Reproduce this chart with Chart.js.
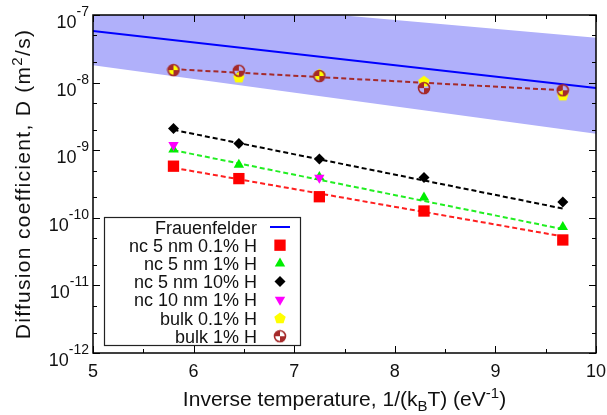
<!DOCTYPE html>
<html>
<head>
<meta charset="utf-8">
<script src="https://cdn.jsdelivr.net/npm/chart.js@4.4.1/dist/chart.umd.min.js"></script>
<style>
  html, body { margin: 0; padding: 0; background: #fff; }
  #wrap { width: 607px; height: 415px; }
</style>
</head>
<body>
<div id="wrap"><canvas id="chart" width="607" height="415"></canvas></div>
<script>
// inverse temperatures 1/(kB T) in eV^-1
const invT = [5.80, 6.45, 7.25, 8.29, 9.67];

// measured diffusion coefficients (m^2/s)
const nc5_01 = [5.8e-10, 3.8e-10, 2.05e-10, 1.26e-10, 4.7e-11];
const nc5_1 = [1.02e-9, 6.1e-10, 4.0e-10, 2.0e-10, 7.3e-11];
const nc5_10 = [2.1e-9, 1.26e-9, 7.4e-10, 3.95e-10, 1.72e-10];
const nc10_1 = [1.19e-9, null, 3.9e-10, null, null];
const bulk01 = [1.55e-8, 1.2e-8, 1.33e-8, 1.05e-8, 6.5e-9];
const bulk1 = [1.53e-8, 1.5e-8, 1.25e-8, 8.3e-9, 7.7e-9];

// Arrhenius fits (dashed), end points
const fitX = [5.80, 9.67];
const fitNc5_01 = [5.5e-10, 5.3e-11];
const fitNc5_1 = [1.0e-9, 6.8e-11];
const fitNc5_10 = [2.0e-9, 1.37e-10];
const fitBulk = [1.58e-8, 7.7e-9];

// Frauenfelder line and its uncertainty band
const frX = [5, 10];
const frauenfelder = [5.8e-8, 8.3e-9];
const frUpper = [2.1e-7, 4.6e-8];
const frLower = [1.8e-8, 1.75e-9];

// ticks
const xTicks = [5, 6, 7, 8, 9, 10];
const xMinor = [5.5, 6.5, 7.5, 8.5, 9.5];
const yExp = [-7, -8, -9, -10, -11, -12];
const yMinorMult = [2, 5];

const FONT = '"Liberation Sans", Arial, sans-serif';
const BROWN = '#a52a2a';

const pts = (xs, ys) => xs.map((x, i) => ({ x: x, y: ys[i] })).filter(p => p.y != null);

// pentagon and half-filled circle symbols
function makePentagon() {
  const c = document.createElement('canvas');
  c.width = 14; c.height = 14;
  const g = c.getContext('2d');
  g.fillStyle = '#ffff00';
  g.beginPath();
  for (let i = 0; i < 5; i++) {
    const a = -Math.PI / 2 + i * 2 * Math.PI / 5;
    const px = 7 + 6 * Math.cos(a), py = 7.5 + 6 * Math.sin(a);
    if (i === 0) g.moveTo(px, py); else g.lineTo(px, py);
  }
  g.closePath();
  g.fill();
  return c;
}
function makeChecker() {
  const c = document.createElement('canvas');
  c.width = 14; c.height = 14;
  const g = c.getContext('2d');
  g.fillStyle = BROWN;
  g.strokeStyle = BROWN;
  g.beginPath(); g.moveTo(7, 7); g.arc(7, 7, 5.5, 0, Math.PI / 2); g.closePath(); g.fill();
  g.beginPath(); g.moveTo(7, 7); g.arc(7, 7, 5.5, Math.PI, Math.PI * 1.5); g.closePath(); g.fill();
  g.lineWidth = 1.6;
  g.beginPath(); g.arc(7, 7, 5.5, 0, Math.PI * 2); g.stroke();
  return c;
}
const pentagon = makePentagon();
const checker = makeChecker();

function richWidth(ctx, parts) {
  let w = 0;
  parts.forEach(p => { ctx.font = p[1] + 'px ' + FONT; w += ctx.measureText(p[0]).width; });
  return w;
}
function drawRich(ctx, parts, x, y, align) {
  const w = richWidth(ctx, parts);
  let cx = align === 'center' ? x - w / 2 : (align === 'right' ? x - w : x);
  ctx.textAlign = 'left';
  ctx.textBaseline = 'alphabetic';
  parts.forEach(p => {
    ctx.font = p[1] + 'px ' + FONT;
    ctx.fillText(p[0], cx, y + (p[2] || 0));
    cx += ctx.measureText(p[0]).width;
  });
}

const legendItems = [
  { text: 'Frauenfelder', line: '#0000ff' },
  { text: 'nc 5 nm 0.1% H', color: '#ff0000', style: 'rect', r: 8 },
  { text: 'nc 5 nm 1% H', color: '#00ee00', style: 'triangle', r: 6 },
  { text: 'nc 5 nm 10% H', color: '#000000', style: 'rectRot', r: 5.5 },
  { text: 'nc 10 nm 1% H', color: '#ff00ff', style: 'triangle', r: 6, rot: 180 },
  { text: 'bulk 0.1% H', color: '#ffff00', style: pentagon, r: 6 },
  { text: 'bulk 1% H', color: BROWN, style: checker, r: 6 }
];

const framePlugin = {
  id: 'frame',
  afterDraw(chart) {
    const ctx = chart.ctx;
    const a = chart.chartArea;
    const sx = chart.scales.x, sy = chart.scales.y;
    ctx.save();

    // legend box
    const lx0 = 104, ly0 = 217, lx1 = 300, ly1 = 345;
    ctx.fillStyle = '#fff';
    ctx.fillRect(lx0, ly0, lx1 - lx0, ly1 - ly0);
    ctx.lineWidth = 1.2;
    ctx.strokeStyle = '#222';
    ctx.strokeRect(lx0 + 0.5, ly0 + 0.5, lx1 - lx0, ly1 - ly0);
    legendItems.forEach((it, i) => {
      const yc = 227 + i * 18.2;
      ctx.fillStyle = '#111';
      drawRich(ctx, [[it.text, 18]], 257, yc + 6.5, 'right');
      if (it.line) {
        ctx.strokeStyle = it.line;
        ctx.lineWidth = 2;
        ctx.beginPath(); ctx.moveTo(270, yc); ctx.lineTo(290, yc); ctx.stroke();
      } else {
        ctx.fillStyle = it.color;
        ctx.strokeStyle = it.color;
        Chart.helpers.drawPoint(ctx, { pointStyle: it.style, radius: it.r, rotation: it.rot || 0, borderWidth: 0 }, 280, yc);
      }
    });

    // plot border
    ctx.strokeStyle = '#000';
    ctx.lineWidth = 1.5;
    ctx.strokeRect(a.left, a.top, a.right - a.left, a.bottom - a.top);

    // ticks, inward on all four sides
    ctx.lineWidth = 1;
    const tick = (x0, y0, x1, y1) => { ctx.beginPath(); ctx.moveTo(x0, y0); ctx.lineTo(x1, y1); ctx.stroke(); };
    xTicks.forEach(v => {
      const x = Math.round(sx.getPixelForValue(v)) + 0.5;
      tick(x, a.bottom, x, a.bottom - 7);
      tick(x, a.top, x, a.top + 7);
    });
    xMinor.forEach(v => {
      const x = Math.round(sx.getPixelForValue(v)) + 0.5;
      tick(x, a.bottom, x, a.bottom - 4);
      tick(x, a.top, x, a.top + 4);
    });
    yExp.forEach(e => {
      const y = Math.round(sy.getPixelForValue(Math.pow(10, e))) + 0.5;
      tick(a.left, y, a.left + 7, y);
      tick(a.right, y, a.right - 7, y);
    });
    yExp.slice(1).forEach(e => {
      yMinorMult.forEach(m => {
        const y = Math.round(sy.getPixelForValue(m * Math.pow(10, e))) + 0.5;
        tick(a.left, y, a.left + 4, y);
        tick(a.right, y, a.right - 4, y);
      });
    });

    // tick labels
    ctx.fillStyle = '#111';
    xTicks.forEach(v => {
      drawRich(ctx, [[String(v), 18]], sx.getPixelForValue(v), 377, 'center');
    });
    yExp.forEach(e => {
      const y = sy.getPixelForValue(Math.pow(10, e));
      drawRich(ctx, [['10', 18], [String(e), 14, -12]], 89, y + 13, 'right');
    });

    // axis titles
    drawRich(ctx, [['Inverse temperature, 1/(k', 21], ['B', 15, 5], ['T) (eV', 21], ['-1', 15, -8], [')', 21]],
      (a.left + a.right) / 2, 406, 'center');
    ctx.save();
    ctx.translate(30, (a.top + a.bottom) / 2);
    ctx.rotate(-Math.PI / 2);
    ctx.letterSpacing = '1.3px';
    drawRich(ctx, [['Diffusion coefficient, D (m', 21], ['2', 15, -8], ['/s)', 21]], 0, 0, 'center');
    ctx.restore();

    ctx.restore();
  }
};

const fitLine = (ys, color) => ({
  data: pts(fitX, ys), borderColor: color, borderWidth: 2, borderDash: [5, 3],
  pointRadius: 0, fill: false, order: 10
});
const scatter = (ys, color, style, r, order, rot) => ({
  data: pts(invT, ys), showLine: false, pointStyle: style, pointRadius: r,
  pointRotation: rot || 0, backgroundColor: color, borderColor: color, borderWidth: 0,
  pointBorderWidth: 0, order: order
});

new Chart(document.getElementById('chart'), {
  type: 'line',
  data: {
    datasets: [
      { data: pts(frX, frUpper), borderWidth: 0, pointRadius: 0, fill: '+1', backgroundColor: 'rgb(176,176,250)', order: 20 },
      { data: pts(frX, frLower), borderWidth: 0, pointRadius: 0, fill: false, order: 19 },
      { data: pts(frX, frauenfelder), borderColor: '#0000ff', borderWidth: 2, pointRadius: 0, fill: false, order: 18 },
      fitLine(fitNc5_01, '#ff2020'),
      fitLine(fitNc5_1, '#22ee22'),
      fitLine(fitNc5_10, '#000000'),
      fitLine(fitBulk, BROWN),
      scatter(nc5_01, '#ff0000', 'rect', 8, 6),
      scatter(nc5_1, '#00ee00', 'triangle', 6, 5),
      scatter(nc5_10, '#000000', 'rectRot', 5.5, 4),
      scatter(nc10_1, '#ff00ff', 'triangle', 6, 3, 180),
      scatter(bulk01, '#ffff00', pentagon, 6, 2),
      scatter(bulk1, BROWN, checker, 6, 1)
    ]
  },
  options: {
    responsive: false,
    animation: false,
    events: [],
    devicePixelRatio: 1,
    layout: { padding: { left: 93, right: 11, top: 15, bottom: 62 } },
    scales: {
      x: { type: 'linear', min: 5, max: 10, display: false },
      y: { type: 'logarithmic', min: 1e-12, max: 1e-7, display: false }
    },
    plugins: { legend: { display: false }, tooltip: { enabled: false } }
  },
  plugins: [framePlugin]
});
</script>
</body>
</html>
